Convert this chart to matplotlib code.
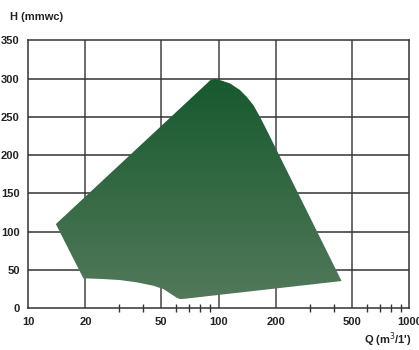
import numpy as np
import matplotlib
matplotlib.use('Agg')
import matplotlib.pyplot as plt
from matplotlib.patches import Polygon
from matplotlib.colors import LinearSegmentedColormap

# Campo di funzionamento (Q in m3/h, H in mmwc)
q_vals = [14, 19.5, 24.8, 30.4, 37.2, 45.4, 51.2, 55.5, 60.2, 62.7, 65.5,
          441, 193.4, 178.5, 164.6, 151.9, 140.2, 129.3, 114.6, 101.6,
          95.5, 90.5]
h_vals = [110, 39.2, 38.2, 36.9, 33.9, 29.5, 25.2, 19.6, 13.8, 12.1, 12.3,
          35.6, 215.4, 232.8, 250.1, 265.4, 276.2, 285.0, 293.7, 298.0,
          299.6, 298.0]

x_ticks = [10, 20, 50, 100, 200, 500, 1000]
x_minor = [30, 40, 60, 70, 80, 90, 300, 400, 600, 700, 800, 900]
y_ticks = [0, 50, 100, 150, 200, 250, 300, 350]

plt.rcParams['font.family'] = ['Liberation Sans Narrow', 'Liberation Sans', 'DejaVu Sans']

fig = plt.figure(figsize=(4.19, 3.5), dpi=100)
ax = fig.add_axes([28 / 419, 1 - 308.3 / 350, (409.4 - 28) / 419, (308.3 - 40.3) / 350])
ax.set_xscale('log')
ax.set_xlim(10, 1000)
ax.set_ylim(0, 350)

# griglia
for xv in [20, 50, 100, 200, 500]:
    ax.axvline(xv, color='#444444', lw=1.1, zorder=1)
for yv in y_ticks[1:-1]:
    ax.axhline(yv, color='#333333', lw=1.1, zorder=1)

# area con gradiente
poly = Polygon(np.column_stack([q_vals, h_vals]), closed=True, facecolor='none', edgecolor='none')
ax.add_patch(poly)
cmap = LinearSegmentedColormap.from_list('verde', ['#52795a', '#17592e'])
grad = np.linspace(0, 1, 256).reshape(-1, 1)
img = ax.imshow(grad, cmap=cmap, origin='lower', aspect='auto',
                extent=[0, 1, 11.7 / 350, 300 / 350], transform=ax.transAxes, zorder=2)
img.set_clip_path(poly)

for s in ax.spines.values():
    s.set_color('#333333')
    s.set_linewidth(1.1)

ax.set_xticks(x_ticks)
ax.set_xticklabels([str(v) for v in x_ticks])
ax.set_xticks(x_minor, minor=True)
ax.set_xticklabels([], minor=True)
ax.tick_params(axis='x', which='major', length=0, pad=6)
ax.tick_params(axis='x', which='minor', direction='inout', length=6, width=1, color='#333333')
ax.set_yticks(y_ticks)
ax.tick_params(axis='y', length=0, pad=6)
for lab in ax.get_xticklabels() + ax.get_yticklabels():
    lab.set_fontsize(8)
    lab.set_fontweight('bold')
    lab.set_color('#222222')

fig.text(10 / 419, 1 - 17 / 350, 'H (mmwc)', fontsize=8, fontweight='bold', color='#222222', va='center')
fig.text(412 / 419, 1 - 340 / 350, 'Q (m$^3$/1\')', fontsize=8, fontweight='bold', color='#222222',
         va='center', ha='right')

fig.savefig('out.png', dpi=100)
